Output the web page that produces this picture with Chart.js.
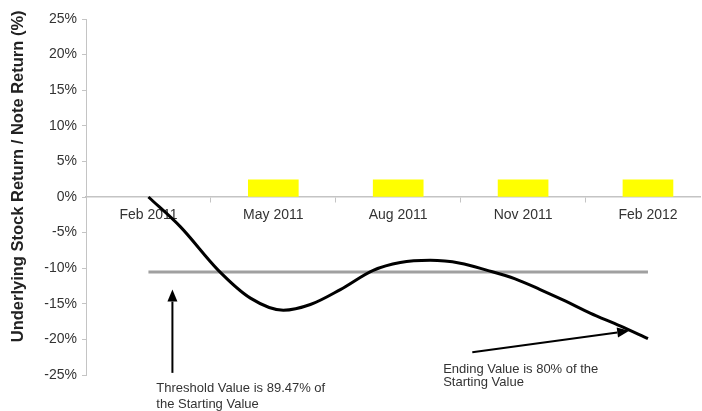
<!DOCTYPE html>
<html>
<head>
<meta charset="utf-8">
<script src="https://cdn.jsdelivr.net/npm/chart.js@4.4.1/dist/chart.umd.min.js"></script>
<style>
  html, body { margin: 0; padding: 0; background: #ffffff; }
  #wrap { width: 702px; height: 411px; position: relative; }
</style>
</head>
<body>
<div id="wrap"><canvas id="c"></canvas></div>
<script>
// ---- Data ----
const categories = ['Feb 2011', 'May 2011', 'Aug 2011', 'Nov 2011', 'Feb 2012'];
const categoryMonths = [0, 3, 6, 9, 12];           // months after Feb 2011
const yTicks = [-25, -20, -15, -10, -5, 0, 5, 10, 15, 20, 25];

const stockMonths  = [0, 0.77, 1.68, 2.45, 3.24, 3.89, 4.61, 5.40, 6.05, 6.77, 7.49, 8.14, 8.81, 9.41, 10.01, 10.61, 11.33, 12];
const stockReturns = [0, -4.2, -10.3, -14.2, -15.9, -15.1, -13.0, -10.3, -9.2, -8.9, -9.3, -10.3, -11.5, -13.0, -14.6, -16.3, -18.1, -19.9];

const couponMonths = [3, 6, 9, 12];
const couponReturns = [2.4, 2.4, 2.4, 2.4];

const thresholdMonths = [0, 12];
const thresholdReturns = [-10.53, -10.53];

const yTitle = 'Underlying Stock Return / Note Return (%)';
const annotationTexts = {
  threshold: ['Threshold Value is 89.47% of', 'the Starting Value'],
  ending: ['Ending Value is 80% of the', 'Starting Value']
};

// ---- Build ----
const toXY = (xs, ys) => xs.map((x, i) => ({ x: x, y: ys[i] }));
const FONT = '"Liberation Sans", Arial, sans-serif';

const annotationPlugin = {
  id: 'notes',
  afterDraw(chart) {
    const ctx = chart.ctx;
    const xs = chart.scales.x, ys = chart.scales.y;
    const px = v => xs.getPixelForValue(v);
    const py = v => ys.getPixelForValue(v);

    function arrow(x1, y1, x2, y2) {
      const ang = Math.atan2(y2 - y1, x2 - x1);
      const hl = 12, hw = 5;
      const bx = x2 - hl * Math.cos(ang), by = y2 - hl * Math.sin(ang);
      ctx.save();
      ctx.strokeStyle = '#000'; ctx.fillStyle = '#000'; ctx.lineWidth = 2;
      ctx.beginPath(); ctx.moveTo(x1, y1); ctx.lineTo(bx, by); ctx.stroke();
      ctx.beginPath();
      ctx.moveTo(x2, y2);
      ctx.lineTo(bx + hw * Math.sin(ang), by - hw * Math.cos(ang));
      ctx.lineTo(bx - hw * Math.sin(ang), by + hw * Math.cos(ang));
      ctx.closePath(); ctx.fill();
      ctx.restore();
    }
    // threshold arrow (vertical, pointing up)
    arrow(px(0.576), py(-24.7), px(0.576), py(-13.0));
    // ending value arrow
    arrow(px(7.78), py(-21.8), px(11.55), py(-18.8));

    ctx.save();
    ctx.fillStyle = '#333';
    ctx.font = '13px ' + FONT;
    ctx.textAlign = 'left';
    ctx.textBaseline = 'middle';
    ctx.fillText(annotationTexts.threshold[0], px(0.19), py(-26.85));
    ctx.fillText(annotationTexts.threshold[1], px(0.19), py(-29.2));
    ctx.fillText(annotationTexts.ending[0], px(7.08), py(-24.15));
    ctx.fillText(annotationTexts.ending[1], px(7.08), py(-26.1));
    ctx.restore();

    // y axis title
    ctx.save();
    ctx.translate(ys.left + 18.5, py(2.9));
    ctx.rotate(-Math.PI / 2);
    ctx.fillStyle = '#222';
    ctx.font = 'bold 16.5px ' + FONT;
    ctx.textAlign = 'center';
    ctx.textBaseline = 'middle';
    ctx.fillText(yTitle, 0, 0);
    ctx.restore();
  }
};

new Chart(document.getElementById('c'), {
  type: 'line',
  data: {
    datasets: [
      {
        type: 'bar',
        label: 'Note Return',
        data: toXY(couponMonths, couponReturns),
        backgroundColor: '#ffff00',
        borderWidth: 0,
        barThickness: 50,
        order: 3
      },
      {
        label: 'Threshold',
        data: toXY(thresholdMonths, thresholdReturns),
        borderColor: '#a0a0a0',
        borderWidth: 3,
        pointRadius: 0,
        fill: false,
        order: 2
      },
      {
        label: 'Underlying Stock Return',
        data: toXY(stockMonths, stockReturns),
        borderColor: '#000000',
        borderWidth: 3,
        pointRadius: 0,
        fill: false,
        cubicInterpolationMode: 'monotone',
        order: 1
      }
    ]
  },
  options: {
    responsive: true,
    maintainAspectRatio: false,
    animation: false,
    devicePixelRatio: 1,
    layout: { padding: { top: 19, right: 2, bottom: 36, left: 0 } },
    plugins: { legend: { display: false }, tooltip: { enabled: false } },
    scales: {
      x: {
        type: 'linear',
        position: { y: 0 },
        min: -1.5,
        max: 13.25,
        offset: false,
        afterBuildTicks: s => { s.ticks = categoryMonths.map(v => ({ value: v })); },
        ticks: {
          autoSkip: false,
          maxRotation: 0,
          padding: 5,
          color: '#333',
          font: { family: FONT, size: 14 },
          callback: v => categories[categoryMonths.indexOf(v)]
        },
        grid: {
          offset: true,
          drawOnChartArea: false,
          drawTicks: true,
          tickLength: 5,
          tickColor: '#c4c4c4'
        },
        border: { color: '#c4c4c4', width: 1.5 }
      },
      y: {
        min: -25,
        max: 25,
        afterBuildTicks: s => { s.ticks = yTicks.map(v => ({ value: v })); },
        afterFit: s => { s.width = 86; },
        ticks: {
          padding: 5,
          color: '#333',
          font: { family: FONT, size: 14 },
          callback: v => v + '%'
        },
        grid: {
          drawOnChartArea: false,
          drawTicks: true,
          tickLength: 4,
          tickColor: '#c4c4c4'
        },
        border: { color: '#c4c4c4', width: 1 },
        title: { display: false }
      }
    }
  },
  plugins: [annotationPlugin]
});
</script>
</body>
</html>
